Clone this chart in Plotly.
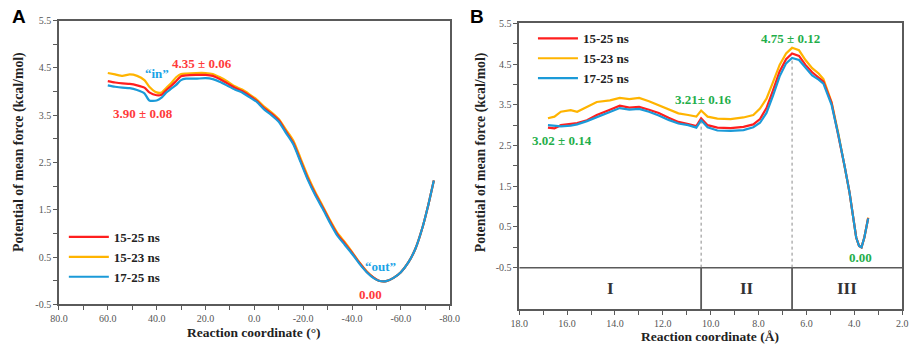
import plotly.graph_objects as go

# ---------------- Panel A data ----------------
a_x = [60, 57, 54, 51, 48, 45, 43, 40, 38, 36, 34, 32, 30, 28, 24, 20, 17, 14, 11, 8, 5, 2,
       -1, -4, -7, -10, -13, -16, -19, -22, -25, -28, -31, -34, -37, -40, -43, -46, -49,
       -51, -54, -57, -60, -63, -66, -69, -71, -73.5]
a_blue = [4.13, 4.10, 4.08, 4.07, 4.03, 3.96, 3.81, 3.81, 3.87, 3.98, 4.06, 4.14, 4.24, 4.27,
          4.27, 4.28, 4.26, 4.20, 4.12, 4.04, 3.98, 3.88, 3.78, 3.62, 3.50, 3.36, 3.12, 2.88,
          2.50, 2.12, 1.80, 1.52, 1.22, 0.95, 0.76, 0.57, 0.36, 0.18, 0.05, 0.00, -0.01, 0.06,
          0.18, 0.38, 0.68, 1.15, 1.55, 2.12]
a_red = [4.22, 4.19, 4.17, 4.16, 4.13, 4.08, 3.98, 3.92, 3.93, 4.03, 4.12, 4.22, 4.32, 4.34,
         4.35, 4.35, 4.33, 4.26, 4.17, 4.08, 4.01, 3.91, 3.80, 3.65, 3.53, 3.39, 3.15, 2.91,
         2.53, 2.15, 1.83, 1.55, 1.25, 0.98, 0.79, 0.59, 0.38, 0.19, 0.06, 0.00, -0.01, 0.06,
         0.18, 0.38, 0.68, 1.15, 1.55, 2.12]
a_yellow = [4.39, 4.36, 4.33, 4.36, 4.33, 4.24, 4.10, 3.98, 3.98, 4.08, 4.18, 4.30, 4.37, 4.38,
            4.39, 4.39, 4.37, 4.30, 4.21, 4.11, 4.04, 3.94, 3.83, 3.68, 3.56, 3.42, 3.19, 2.96,
            2.58, 2.20, 1.87, 1.58, 1.28, 1.01, 0.82, 0.61, 0.39, 0.20, 0.06, 0.00, -0.01, 0.06,
            0.18, 0.38, 0.68, 1.15, 1.55, 2.12]

# ---------------- Panel B data ----------------
b_x = [16.8, 16.53, 16.26, 15.85, 15.58, 15.17, 14.76, 14.21, 13.8, 13.4, 12.99, 12.58, 12.17,
       11.76, 11.35, 10.94, 10.6, 10.4, 10.13, 9.72, 9.17, 8.63, 8.22, 7.94, 7.67, 7.4, 7.12,
       6.85, 6.6, 6.31, 6.04, 5.76, 5.49, 5.29, 4.95, 4.67, 4.4, 4.2, 4.06, 3.92, 3.8, 3.7,
       3.58, 3.42]
b_yellow = [3.17, 3.21, 3.33, 3.37, 3.33, 3.45, 3.57, 3.61, 3.67, 3.64, 3.67, 3.59, 3.49, 3.37,
            3.29, 3.25, 3.21, 3.36, 3.21, 3.16, 3.15, 3.19, 3.25, 3.41, 3.65, 4.05, 4.48, 4.76,
            4.90, 4.84, 4.60, 4.40, 4.27, 4.13, 3.57, 2.80, 1.98, 1.35, 0.79, 0.24, 0.03, 0.00,
            0.24, 0.73]
b_red = [2.94, 2.92, 3.00, 3.02, 3.05, 3.12, 3.25, 3.38, 3.48, 3.43, 3.45, 3.38, 3.30, 3.18,
         3.08, 3.03, 2.98, 3.17, 3.00, 2.94, 2.93, 2.96, 3.02, 3.15, 3.42, 3.85, 4.32, 4.62,
         4.76, 4.70, 4.48, 4.30, 4.18, 4.07, 3.55, 2.79, 1.98, 1.35, 0.79, 0.24, 0.03, 0.00,
         0.24, 0.72]
b_blue = [3.00, 2.98, 2.97, 2.99, 3.02, 3.10, 3.20, 3.33, 3.42, 3.38, 3.40, 3.33, 3.24, 3.13,
          3.04, 3.00, 2.94, 3.12, 2.95, 2.87, 2.86, 2.88, 2.95, 3.06, 3.30, 3.72, 4.20, 4.52,
          4.65, 4.60, 4.40, 4.22, 4.12, 4.02, 3.50, 2.77, 1.98, 1.35, 0.79, 0.24, 0.03, 0.00,
          0.24, 0.71]

series_names = ["15-25 ns", "15-23 ns", "17-25 ns"]
series_colors = ["#ff1e1e", "#ffb400", "#1b9ad8"]

region_bounds = [10.4, 6.6]
region_tops = [3.08, 4.66]
region_labels = ["I", "II", "III"]
region_centers = [14.2, 8.5, 4.3]

a_xticks = list(range(80, -81, -10))
a_xtext = [f"{v:.1f}" if v % 20 == 0 else "" for v in a_xticks]
b_xticks = list(range(18, 1, -1))
b_xtext = [f"{v:.1f}" if v % 2 == 0 else "" for v in b_xticks]
yticks = [-0.5 + 0.5 * i for i in range(13)]
ytext = [f"{v:.1f}" if i % 2 == 0 else "" for i, v in enumerate(yticks)]

SERIF = "Liberation Serif"
AXC = "#5a5a5a"

fig = go.Figure()

order = [1, 0, 2]  # draw yellow, red, blue (blue on top)
a_vals = [a_red, a_yellow, a_blue]
b_vals = [b_red, b_yellow, b_blue]
for i in order:
    fig.add_trace(go.Scatter(x=a_x, y=a_vals[i], mode="lines", name=f"<b>{series_names[i]}</b>",
                             line=dict(color=series_colors[i], width=2.2, shape="spline", smoothing=0.6),
                             xaxis="x", yaxis="y", legend="legend", legendrank=i + 1))
for i in order:
    fig.add_trace(go.Scatter(x=b_x, y=b_vals[i], mode="lines", name=f"<b>{series_names[i]}</b>",
                             line=dict(color=series_colors[i], width=2.2),
                             xaxis="x2", yaxis="y2", legend="legend2", legendrank=i + 1))

axis_common = dict(showline=True, linecolor=AXC, linewidth=1.5, mirror=True, ticks="outside",
                   ticklen=4, tickwidth=1, tickcolor=AXC, showgrid=False, zeroline=False,
                   tickfont=dict(family=SERIF, size=10, color="#555555"), tickmode="array")

fig.update_layout(
    width=920, height=352, autosize=False,
    margin=dict(l=0, r=0, t=0, b=0),
    paper_bgcolor="white", plot_bgcolor="white",
    xaxis=dict(domain=[51 / 920, 450 / 920], range=[80, -80], tickvals=a_xticks, ticktext=a_xtext,
               anchor="y", **axis_common),
    yaxis=dict(domain=[1 - 309 / 352, 1 - 16 / 352], range=[-0.5, 5.5], tickvals=yticks,
               ticktext=ytext, anchor="x", **axis_common),
    xaxis2=dict(domain=[521 / 920, 912 / 920], range=[18, 2], tickvals=b_xticks, ticktext=b_xtext,
                anchor="y2", **axis_common),
    yaxis2=dict(domain=[1 - 314 / 352, 1 - 19 / 352], range=[-1.52, 5.5], tickvals=yticks,
                ticktext=ytext, anchor="x2", **axis_common),
    legend=dict(x=56 / 920, y=1 - 224 / 352, xanchor="left", yanchor="top",
                bgcolor="rgba(0,0,0,0)", font=dict(family=SERIF, size=13, color="#222222"),
                tracegroupgap=0, itemwidth=40),
    legend2=dict(x=535 / 920, y=1 - 19 / 352, xanchor="left", yanchor="top",
                 bgcolor="rgba(0,0,0,0)", font=dict(family=SERIF, size=13, color="#222222"),
                 tracegroupgap=0, itemwidth=40),
    showlegend=True,
)

# region divisions in panel B
fig.add_shape(type="line", xref="x2", yref="y2", x0=18, x1=2, y0=-0.5, y1=-0.5,
              line=dict(color=AXC, width=1.5))
for xb, yt in zip(region_bounds, region_tops):
    fig.add_shape(type="line", xref="x2", yref="y2", x0=xb, x1=xb, y0=-0.5, y1=yt,
                  line=dict(color="#8a8a8a", width=1, dash="dot"))
    fig.add_shape(type="line", xref="x2", yref="y2", x0=xb, x1=xb, y0=-1.52, y1=-0.5,
                  line=dict(color=AXC, width=1.8))
for lab, xc in zip(region_labels, region_centers):
    fig.add_annotation(x=xc, y=-1.02, xref="x2", yref="y2", text=f"<b>{lab}</b>", showarrow=False,
                       xanchor="center", yanchor="middle",
                       font=dict(family=SERIF, size=17, color="#333333"))

RED = "#ff3a3a"
GREEN = "#1fae4a"
BLUE = "#1aa3e6"
ann_a = [(21.6, 4.6, "4.35 ± 0.06", RED), (45.6, 3.54, "3.90 ± 0.08", RED),
         (40, 4.37, "“in”", BLUE), (-51.5, 0.31, "“out”", BLUE), (-47.6, -0.29, "0.00", RED)]
for x, y, t, c in ann_a:
    fig.add_annotation(x=x, y=y, xref="x", yref="y", text=f"<b>{t}</b>", showarrow=False,
                       xanchor="center", yanchor="middle",
                       font=dict(family=SERIF, size=13, color=c))
ann_b = [(6.65, 5.14, "4.75 ± 0.12"), (10.33, 3.63, "3.21± 0.16"), (16.23, 2.62, "3.02 ± 0.14"),
         (3.76, -0.24, "0.00")]
for x, y, t in ann_b:
    fig.add_annotation(x=x, y=y, xref="x2", yref="y2", text=f"<b>{t}</b>", showarrow=False,
                       xanchor="center", yanchor="middle",
                       font=dict(family=SERIF, size=13, color=GREEN))

# axis titles
titles = [(250, 338, 0, "Reaction coordinate (°)"), (716, 342, 0, "Reaction coordinate (Å)"),
          (10, 152, -90, "Potential of mean force (kcal/mol)"),
          (482, 152, -90, "Potential of mean force (kcal/mol)")]
for px, py, ang, t in titles:
    fig.add_annotation(x=px / 920, y=1 - py / 352, xref="paper", yref="paper", textangle=ang,
                       xanchor="center", yanchor="middle",
                       text=f"<b>{t}</b>", showarrow=False,
                       font=dict(family=SERIF, size=13.8 if ang else 13.5, color="#222222"))

# panel letters
for x, t in [(10, "A"), (478, "B")]:
    fig.add_annotation(x=x / 920, y=1 - 12 / 352, xref="paper", yref="paper", text=f"<b>{t}</b>",
                       xanchor="center", yanchor="middle", showarrow=False,
                       font=dict(family="Liberation Sans", size=19, color="black"))

fig.write_html("out.html", config={"displayModeBar": False},
               post_script="document.body.style.margin='0';document.body.style.overflow='hidden';")
